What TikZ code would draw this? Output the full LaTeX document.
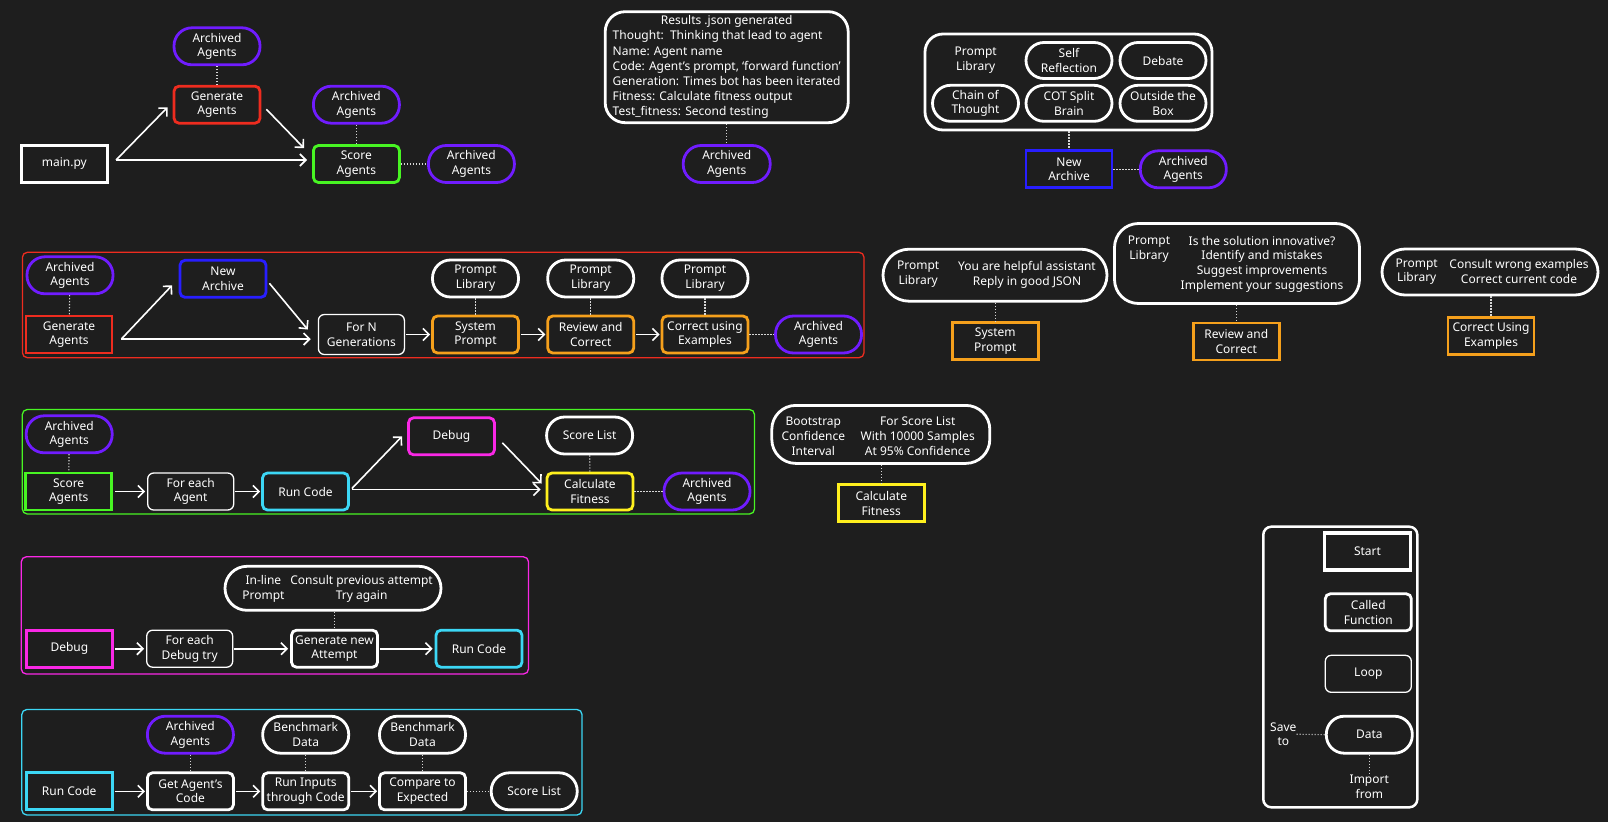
\documentclass[tikz,border=0pt]{standalone}
\usepackage{fontspec}
\setmainfont{Noto Sans}
\usetikzlibrary{arrows.meta,calc}

\definecolor{bg}{RGB}{30,30,30}
\definecolor{cred}{RGB}{238,44,31}
\definecolor{cpurple}{RGB}{112,28,255}
\definecolor{cgreen}{RGB}{72,245,35}
\definecolor{cblue}{RGB}{40,30,255}
\definecolor{corange}{RGB}{245,160,28}
\definecolor{cmagenta}{RGB}{250,40,230}
\definecolor{ccyan}{RGB}{60,215,245}
\definecolor{cyellow}{RGB}{255,240,30}
\definecolor{dotc}{RGB}{215,215,215}

\tikzset{
  lbl/.style={text=white, font=\fontsize{12}{14.7}\selectfont, align=center, inner sep=0pt},
  nd/.style={lbl, minimum width=86pt, minimum height=37pt, inner sep=1pt},
  sqbox/.style={nd, draw=#1, line width=2.8pt},
  fnbox/.style={nd, draw=#1, line width=2.8pt, rounded corners=5pt},
  loopbox/.style={nd, draw=white, line width=1.3pt, rounded corners=6pt},
  databox/.style={nd, draw=#1, line width=2.8pt, rounded corners=18pt},
  archived/.style={databox=cpurple},
  panel/.style={lbl, draw=white, line width=2.8pt},
  secframe/.style={draw=#1, line width=1.3pt, rounded corners=5pt},
  arr/.style={draw=white, line width=1.6pt, -{Straight Barb[length=6pt,width=12pt]}},
  dotline/.style={draw=dotc, line width=1.1pt, dash pattern=on 1.1pt off 1.9pt},
}

\begin{document}
\begin{tikzpicture}[x=1pt,y=-1pt]
\useasboundingbox (0,0) rectangle (1608,822);
\fill[bg] (0,0) rectangle (1608,822);

% ---------- overview: main.py ----------
\node[sqbox=white, line width=3.5pt] (main) at (64.3,164) {main.py};
\node[fnbox=cred] (gen) at (217,104.7) {Generate\\Agents};
\node[archived] (arcA) at (217,46.3) {Archived\\Agents};
\node[fnbox=cgreen] (score) at (356.4,164) {Score\\Agents};
\node[archived] (arcB) at (356.4,104.7) {Archived\\Agents};
\node[archived] (arcC) at (471.4,164) {Archived\\Agents};
\draw[dotline] (arcA) -- (gen);
\draw[dotline] (arcB) -- (score);
\draw[dotline] (score) -- (arcC);
\draw[arr] ($(main.east)+(7,-4)$) -- ($(gen.west)+(-5,2.6)$);
\draw[arr] ($(main.east)+(7,-4)$) -- ($(score.west)+(-5,-4)$);
\draw[arr] ($(gen.east)+(5,4.6)$) -- ($(score.north west)+(-8,4)$);

% ---------- results json ----------
\node[panel, rounded corners=20pt, minimum width=243pt, minimum height=111pt, inner sep=2pt] (res) at (726.7,67.2)
  {\renewcommand\arraystretch{1.03}\begin{tabular}{@{}l@{}}
   \multicolumn{1}{@{}c@{}}{Results .json generated}\\
   Thought:\ \ Thinking that lead to agent\\
   Name: Agent name\\
   Code: Agent’s prompt, ‘forward function’\\
   Generation: Times bot has been iterated\\
   Fitness: Calculate fitness output\\
   Test\_fitness: Second testing
   \end{tabular}};
\node[archived, minimum width=87pt] (arcD) at (726.7,164) {Archived\\Agents};
\draw[dotline] (res) -- (arcD);

% ---------- prompt library for new archive ----------
\node[panel, rounded corners=18pt, minimum width=287pt, minimum height=96pt] (lib) at (1068.5,82) {};
\node[lbl] (libT) at (975.7,60) {Prompt\\Library};
\node[databox=white, minimum height=36pt] (selfref) at (1069,60.5) {Self\\Reflection};
\node[databox=white, minimum height=36pt] (debate) at (1163,60.5) {Debate};
\node[databox=white, minimum height=36pt] (cot) at (975.5,103.3) {Chain of\\Thought};
\node[databox=white, minimum height=36pt] (cotsplit) at (1069,103.3) {COT Split\\Brain};
\node[databox=white, minimum height=36pt] (outside) at (1163,103.3) {Outside the\\Box};
\node[sqbox=cblue] (newarc) at (1069,169.3) {New\\Archive};
\node[archived] (arcE) at (1183.3,169.3) {Archived\\Agents};
\draw[dotline] (lib.south -| newarc) -- (newarc.north);
\draw[dotline] (newarc) -- (arcE);

% ---------- generate agents ----------
\draw[secframe=cred] (22.4,252.3) rectangle (864,357.7);
\node[archived] (arcF) at (70,275.3) {Archived\\Agents};
\node[sqbox=cred] (gen2) at (69,334.5) {Generate\\Agents};
\node[fnbox=cblue] (newarc2) at (223,278.8) {New\\Archive};
\node[loopbox, minimum height=40pt] (forN) at (361.4,334.5) {For N\\Generations};
\node[fnbox=corange] (sysP) at (475.5,334.5) {System\\Prompt};
\node[databox=white] (plib1) at (475.5,278.5) {Prompt\\Library};
\node[fnbox=corange] (revC) at (590.7,334.5) {Review and\\Correct};
\node[databox=white] (plib2) at (590.7,278.5) {Prompt\\Library};
\node[fnbox=corange] (corE) at (705,334.5) {Correct using\\Examples};
\node[databox=white] (plib3) at (705,278.5) {Prompt\\Library};
\node[archived] (arcG) at (818.5,334.5) {Archived\\Agents};
\draw[dotline] (arcF) -- (gen2);
\draw[dotline] (plib1) -- (sysP);
\draw[dotline] (plib2) -- (revC);
\draw[dotline] (plib3) -- (corE);
\draw[dotline] (corE) -- (arcG);
\draw[arr] ($(gen2.east)+(8,4.5)$) -- ($(newarc2.west)+(-6.5,6.5)$);
\draw[arr] ($(gen2.east)+(8,4.5)$) -- ($(forN.west)+(-7,4.5)$);
\draw[arr] ($(newarc2.east)+(2,4.5)$) -- ($(forN.west)+(-10,-5)$);
\draw[arr, shorten <=1pt, shorten >=1pt] (forN.east) -- (sysP.west);
\draw[arr, shorten <=1pt, shorten >=1pt] (sysP.east) -- (revC.west);
\draw[arr, shorten <=1pt, shorten >=1pt] (revC.east) -- (corE.west);

% ---------- prompt details ----------
\node[panel, rounded corners=26pt, minimum width=224pt, minimum height=52pt] (spBox) at (995,275.2) {};
\node[lbl] (spL) at (918.2,274.5) {Prompt\\Library};
\node[lbl] (spR) at (1027,274.5) {You are helpful assistant\\Reply in good JSON};
\node[sqbox=corange] (sp2) at (995.3,341) {System\\Prompt};
\draw[dotline] (spBox.south -| sp2) -- (sp2.north);

\node[panel, rounded corners=24pt, minimum width=245pt, minimum height=80pt] (rcBox) at (1237,263.5) {};
\node[lbl] (rcL) at (1149,249.2) {Prompt\\Library};
\node[lbl] (rcR) at (1262,264) {Is the solution innovative?\\Identify and mistakes\\Suggest improvements\\Implement your suggestions};
\node[sqbox=corange] (rc2) at (1236.3,341.5) {Review and\\Correct};
\draw[dotline] (rcBox.south -| rc2) -- (rc2.north);

\node[panel, rounded corners=23pt, minimum width=216pt, minimum height=46pt] (ceBox) at (1490,272) {};
\node[lbl] (ceL) at (1416.7,271.7) {Prompt\\Library};
\node[lbl] (ceR) at (1519,271.7) {Consult wrong examples\\Correct current code};
\node[sqbox=corange] (ce2) at (1491,336) {Correct Using\\Examples};
\draw[dotline] (ceBox.south -| ce2) -- (ce2.north);

% ---------- score agents ----------
\draw[secframe=cgreen] (22.3,409.5) rectangle (754.5,514);
\node[archived] (arcH) at (69.2,434.3) {Archived\\Agents};
\node[sqbox=cgreen] (score2) at (68.7,491.5) {Score\\Agents};
\node[loopbox] (forA) at (190.7,491.5) {For each\\Agent};
\node[fnbox=ccyan] (run1) at (305.5,491.5) {Run Code};
\node[fnbox=cmagenta] (dbg1) at (451.5,436.3) {Debug};
\node[databox=white] (slist1) at (589.6,435.5) {Score List};
\node[fnbox=cyellow] (calc1) at (590,491.5) {Calculate\\Fitness};
\node[archived] (arcI) at (707,491.5) {Archived\\Agents};
\draw[dotline] (arcH) -- (score2);
\draw[dotline] (slist1) -- (calc1);
\draw[dotline] (calc1) -- (arcI);
\draw[arr, shorten <=2pt, shorten >=2pt] (score2.east) -- (forA.west);
\draw[arr, shorten <=1pt, shorten >=1pt] (forA.east) -- (run1.west);
\draw[arr] ($(run1.east)+(2,-3)$) -- ($(dbg1.west)+(-5,0)$);
\draw[arr] ($(run1.east)+(2,-2)$) -- ($(calc1.west)+(-5,-2)$);
\draw[arr] ($(dbg1.east)+(6.5,6.5)$) -- ($(calc1.west)+(-4,-8)$);

\node[panel, rounded corners=24pt, minimum width=218pt, minimum height=58pt] (cfBox) at (880.8,434.4) {};
\node[lbl] (cfL) at (813.3,436.3) {Bootstrap\\Confidence\\Interval};
\node[lbl] (cfR) at (917.7,436.3) {For Score List\\With 10000 Samples\\At 95\% Confidence};
\node[sqbox=cyellow] (cf2) at (881.3,503.3) {Calculate\\Fitness};
\draw[dotline] (cfBox.south -| cf2) -- (cf2.north);

% ---------- debug ----------
\draw[secframe=cmagenta] (21.3,556.8) rectangle (528.5,674);
\node[sqbox=cmagenta] (dbg2) at (69.4,648.7) {Debug};
\node[loopbox] (forD) at (189.7,648.7) {For each\\Debug try};
\node[fnbox=white] (genA) at (334.5,648.7) {Generate new\\Attempt};
\node[fnbox=ccyan] (run2) at (479,648.7) {Run Code};
\node[panel, rounded corners=22pt, minimum width=216pt, minimum height=44pt] (ilBox) at (333,588.3) {};
\node[lbl] (ilL) at (263.4,588.7) {In-line\\Prompt};
\node[lbl] (ilR) at (361.6,588.7) {Consult previous attempt\\Try again};
\draw[dotline] (ilBox.south -| genA) -- (genA.north);
\draw[arr, shorten <=1pt, shorten >=2pt] (dbg2.east) -- (forD.west);
\draw[arr, shorten <=1pt, shorten >=2pt] (forD.east) -- (genA.west);
\draw[arr, shorten <=1pt, shorten >=2pt] (genA.east) -- (run2.west);

% ---------- run code ----------
\draw[secframe=ccyan] (21.8,709.5) rectangle (582,815);
\node[sqbox=ccyan] (run3) at (69.2,791.3) {Run Code};
\node[fnbox=white] (getC) at (190.4,791.3) {Get Agent’s\\Code};
\node[archived] (arcJ) at (190.4,734.7) {Archived\\Agents};
\node[fnbox=white] (runI) at (305.7,791.3) {Run Inputs\\through Code};
\node[databox=white] (bench1) at (305.7,734.7) {Benchmark\\Data};
\node[fnbox=white] (cmpE) at (422.5,791.3) {Compare to\\Expected};
\node[databox=white] (bench2) at (422.5,734.7) {Benchmark\\Data};
\node[databox=white] (slist2) at (534.2,791.3) {Score List};
\draw[dotline] (arcJ) -- (getC);
\draw[dotline] (bench1) -- (runI);
\draw[dotline] (bench2) -- (cmpE);
\draw[dotline] (cmpE) -- (slist2);
\draw[arr, shorten <=1pt, shorten >=1pt] (run3.east) -- (getC.west);
\draw[arr, shorten <=1pt, shorten >=1pt] (getC.east) -- (runI.west);
\draw[arr, shorten <=1pt, shorten >=1pt] (runI.east) -- (cmpE.west);

% ---------- legend ----------
\draw[white, line width=2.5pt, rounded corners=8pt] (1263.3,526.7) rectangle (1417.3,807.3);
\node[sqbox=white, line width=3.5pt] (lgStart) at (1367.5,551.7) {Start};
\node[fnbox=white] (lgCall) at (1368.3,612.3) {Called\\Function};
\node[loopbox] (lgLoop) at (1368.3,673.8) {Loop};
\node[databox=white] (lgData) at (1369.3,734.7) {Data};
\node[lbl] (lgSave) at (1283.3,734.2) {Save\\to};
\node[lbl] (lgImp) at (1369.3,786.7) {Import\\from};
\draw[dotline] (lgSave.east) -- (lgData.west);
\draw[dotline] (lgData.south) -- (lgImp.north);
\end{tikzpicture}
\end{document}
